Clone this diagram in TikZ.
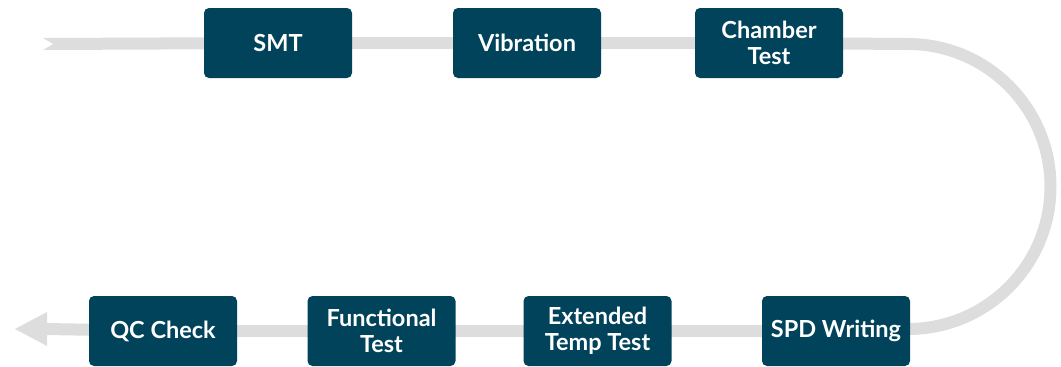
\documentclass[tikz,border=0pt]{standalone}
\usepackage{fontspec}
\setmainfont{Lato}
\usetikzlibrary{backgrounds}
\definecolor{boxfill}{HTML}{00435A}
\definecolor{bandgray}{HTML}{DDDDDD}
\tikzset{
  stepbox/.style={draw=none, fill=boxfill, rounded corners=5pt, minimum width=148pt, minimum height=70pt,
    inner sep=0pt, text=white, font=\fontsize{23.5}{26}\selectfont\bfseries, align=center},
  band/.style={draw=bandgray, line width=12pt, line cap=butt, line join=round}
}
\begin{document}
\begin{tikzpicture}[x=1pt,y=-1pt]
\useasboundingbox (0,0) rectangle (1061,367);
\coordinate (tail) at (43,44);
\coordinate (arcA) at (908,44);
\coordinate (arcM) at (1050.5,186.5);
\coordinate (arcB) at (908,329);
\coordinate (headbase) at (46,329);
\node[stepbox] (smt) at (278,43) {SMT};
\node[stepbox] (vib) at (527,43) {Vibration};
\node[stepbox] (cham) at (769,43) {Chamber\\Test};
\node[stepbox] (spd) at (836,331) {SPD Writing};
\node[stepbox] (ext) at (597.5,331) {Extended\\Temp Test};
\node[stepbox] (fun) at (381.5,331) {Functional\\Test};
\node[stepbox] (qc) at (163,331) {QC Check};
\begin{pgfonlayer}{background}
  \draw[band] (tail) -- (smt.center) -- (vib.center) -- (cham.center) -- (arcA)
    .. controls (986.7,44) and (1050.5,107.8) .. (arcM)
    .. controls (1050.5,265.2) and (986.7,329) .. (arcB)
    -- (spd.center) -- (ext.center) -- (fun.center) -- (qc.center) -- (headbase);
  \fill[white] (42,37.5) -- (53,44) -- (42,50.5) -- cycle;
  \fill[bandgray] (47,312) -- (15,329) -- (47,346) -- cycle;
\end{pgfonlayer}
\end{tikzpicture}
\end{document}
